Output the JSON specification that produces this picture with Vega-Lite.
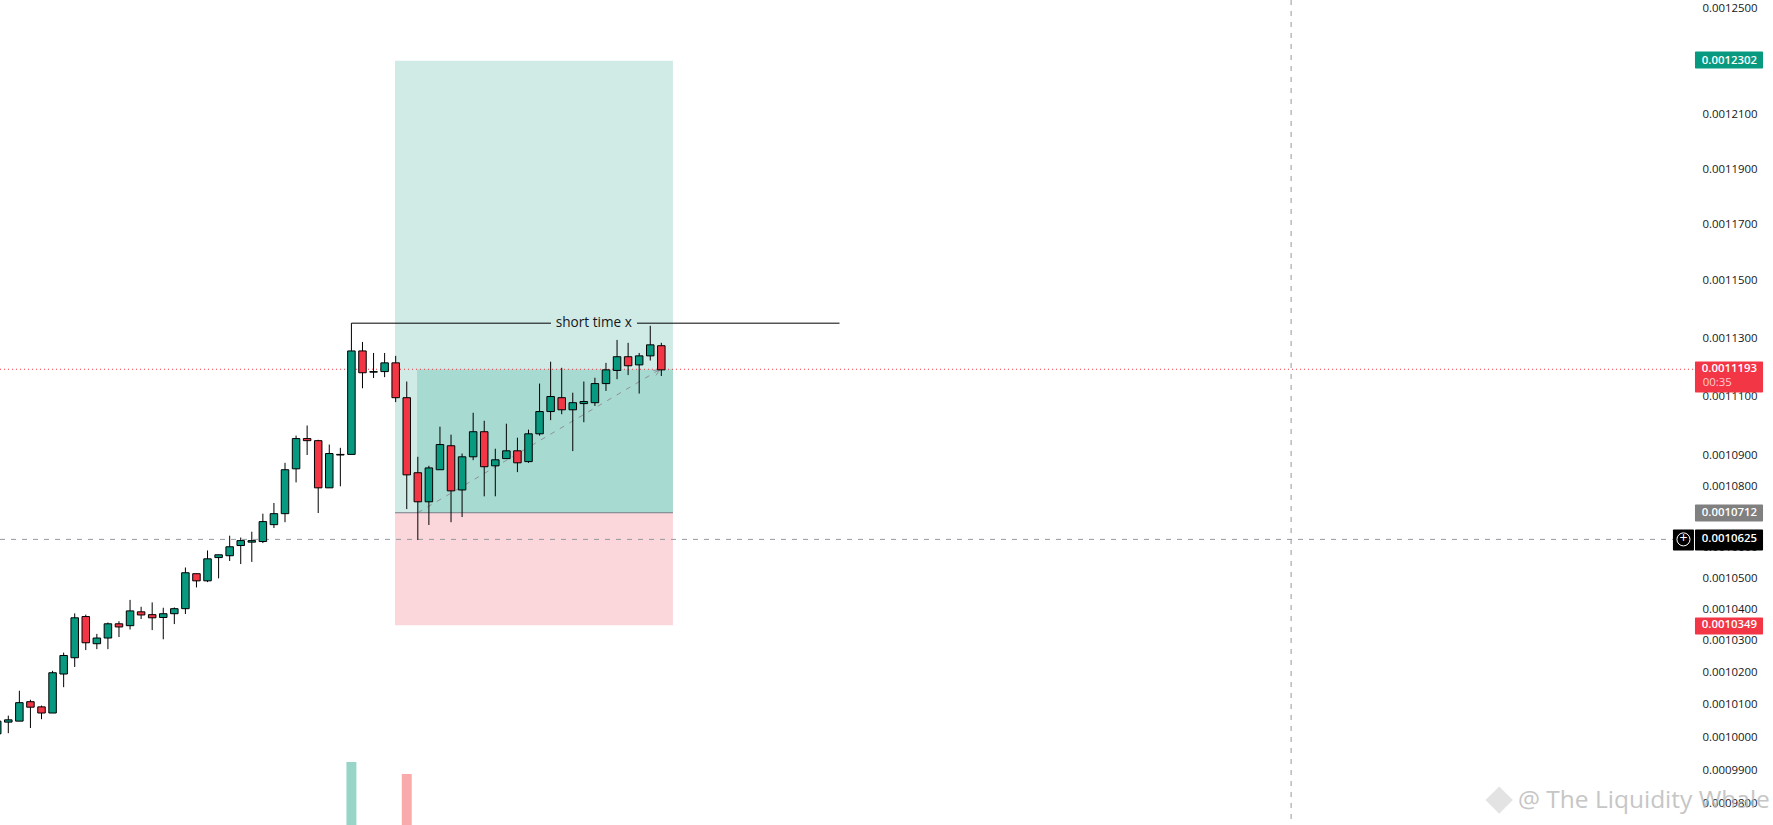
{
"$schema":"https://vega.github.io/schema/vega-lite/v6.json",
"width":1773,"height":825,"padding":0,"autosize":{"type":"none"},"background":"#ffffff",
"view":{"stroke":null},
"datasets":{
"candles":[
{"k":0,"open":0.0010011,"high":0.0010062,"low":0.0010001,"close":0.0010050,"dir":"up"},
{"k":1,"open":0.0010047,"high":0.0010067,"low":0.0010013,"close":0.0010054,"dir":"up"},
{"k":2,"open":0.0010050,"high":0.0010144,"low":0.0010050,"close":0.0010107,"dir":"up"},
{"k":3,"open":0.0010110,"high":0.0010116,"low":0.0010029,"close":0.0010093,"dir":"down"},
{"k":4,"open":0.0010094,"high":0.0010098,"low":0.0010056,"close":0.0010075,"dir":"down"},
{"k":5,"open":0.0010075,"high":0.0010206,"low":0.0010075,"close":0.0010200,"dir":"up"},
{"k":6,"open":0.0010196,"high":0.0010263,"low":0.0010155,"close":0.0010254,"dir":"up"},
{"k":7,"open":0.0010247,"high":0.0010387,"low":0.0010218,"close":0.0010373,"dir":"up"},
{"k":8,"open":0.0010377,"high":0.0010383,"low":0.0010271,"close":0.0010294,"dir":"down"},
{"k":9,"open":0.0010291,"high":0.0010322,"low":0.0010274,"close":0.0010309,"dir":"up"},
{"k":10,"open":0.0010309,"high":0.0010358,"low":0.0010274,"close":0.0010354,"dir":"up"},
{"k":11,"open":0.0010354,"high":0.0010362,"low":0.0010312,"close":0.0010344,"dir":"down"},
{"k":12,"open":0.0010348,"high":0.0010430,"low":0.0010336,"close":0.0010395,"dir":"up"},
{"k":13,"open":0.0010392,"high":0.0010408,"low":0.0010369,"close":0.0010382,"dir":"down"},
{"k":14,"open":0.0010383,"high":0.0010422,"low":0.0010334,"close":0.0010373,"dir":"down"},
{"k":15,"open":0.0010374,"high":0.0010405,"low":0.0010305,"close":0.0010386,"dir":"up"},
{"k":16,"open":0.0010386,"high":0.0010406,"low":0.0010353,"close":0.0010402,"dir":"up"},
{"k":17,"open":0.0010402,"high":0.0010534,"low":0.0010385,"close":0.0010517,"dir":"up"},
{"k":18,"open":0.0010514,"high":0.0010514,"low":0.0010470,"close":0.0010491,"dir":"down"},
{"k":19,"open":0.0010491,"high":0.0010589,"low":0.0010487,"close":0.0010562,"dir":"up"},
{"k":20,"open":0.0010566,"high":0.0010575,"low":0.0010499,"close":0.0010575,"dir":"up"},
{"k":21,"open":0.0010572,"high":0.0010637,"low":0.0010555,"close":0.0010601,"dir":"up"},
{"k":22,"open":0.0010605,"high":0.0010631,"low":0.0010545,"close":0.0010621,"dir":"up"},
{"k":23,"open":0.0010616,"high":0.0010650,"low":0.0010552,"close":0.0010621,"dir":"up"},
{"k":24,"open":0.0010618,"high":0.0010709,"low":0.0010613,"close":0.0010683,"dir":"up"},
{"k":25,"open":0.0010673,"high":0.0010744,"low":0.0010662,"close":0.0010709,"dir":"up"},
{"k":26,"open":0.0010709,"high":0.0010877,"low":0.0010681,"close":0.0010854,"dir":"up"},
{"k":27,"open":0.0010857,"high":0.0010968,"low":0.0010812,"close":0.0010958,"dir":"up"},
{"k":28,"open":0.0010958,"high":0.0011002,"low":0.0010903,"close":0.0010951,"dir":"down"},
{"k":29,"open":0.0010951,"high":0.0010954,"low":0.0010711,"close":0.0010794,"dir":"down"},
{"k":30,"open":0.0010794,"high":0.0010938,"low":0.0010794,"close":0.0010908,"dir":"up"},
{"k":31,"open":0.0010903,"high":0.0010927,"low":0.0010799,"close":0.0010905,"dir":"up"},
{"k":32,"open":0.0010905,"high":0.0011256,"low":0.0010905,"close":0.0011256,"dir":"up"},
{"k":33,"open":0.0011256,"high":0.0011287,"low":0.0011128,"close":0.0011181,"dir":"down"},
{"k":34,"open":0.0011183,"high":0.0011249,"low":0.0011163,"close":0.0011185,"dir":"up"},
{"k":35,"open":0.0011185,"high":0.0011249,"low":0.0011166,"close":0.0011215,"dir":"up"},
{"k":36,"open":0.0011215,"high":0.0011239,"low":0.0011081,"close":0.0011096,"dir":"down"},
{"k":37,"open":0.0011096,"high":0.0011151,"low":0.0010724,"close":0.0010837,"dir":"down"},
{"k":38,"open":0.0010844,"high":0.0010897,"low":0.0010623,"close":0.0010748,"dir":"down"},
{"k":39,"open":0.0010748,"high":0.0010867,"low":0.0010672,"close":0.0010860,"dir":"up"},
{"k":40,"open":0.0010854,"high":0.0010998,"low":0.0010854,"close":0.0010938,"dir":"up"},
{"k":41,"open":0.0010934,"high":0.0010971,"low":0.0010681,"close":0.0010784,"dir":"down"},
{"k":42,"open":0.0010787,"high":0.0010908,"low":0.0010698,"close":0.0010897,"dir":"up"},
{"k":43,"open":0.0010897,"high":0.0011045,"low":0.0010886,"close":0.0010981,"dir":"up"},
{"k":44,"open":0.0010981,"high":0.0011018,"low":0.0010766,"close":0.0010864,"dir":"down"},
{"k":45,"open":0.0010867,"high":0.0010924,"low":0.0010766,"close":0.0010887,"dir":"up"},
{"k":46,"open":0.0010891,"high":0.0011008,"low":0.0010891,"close":0.0010917,"dir":"up"},
{"k":47,"open":0.0010917,"high":0.0010961,"low":0.0010846,"close":0.0010877,"dir":"down"},
{"k":48,"open":0.0010881,"high":0.0010988,"low":0.0010877,"close":0.0010974,"dir":"up"},
{"k":49,"open":0.0010974,"high":0.0011144,"low":0.0010968,"close":0.0011049,"dir":"up"},
{"k":50,"open":0.0011049,"high":0.0011219,"low":0.0011020,"close":0.0011100,"dir":"up"},
{"k":51,"open":0.0011096,"high":0.0011198,"low":0.0011040,"close":0.0011055,"dir":"down"},
{"k":52,"open":0.0011055,"high":0.0011113,"low":0.0010916,"close":0.0011079,"dir":"up"},
{"k":53,"open":0.0011076,"high":0.0011151,"low":0.0011013,"close":0.0011083,"dir":"up"},
{"k":54,"open":0.0011079,"high":0.0011164,"low":0.0011068,"close":0.0011144,"dir":"up"},
{"k":55,"open":0.0011144,"high":0.0011215,"low":0.0011119,"close":0.0011191,"dir":"up"},
{"k":56,"open":0.0011189,"high":0.0011294,"low":0.0011159,"close":0.0011236,"dir":"up"},
{"k":57,"open":0.0011236,"high":0.0011284,"low":0.0011173,"close":0.0011205,"dir":"down"},
{"k":58,"open":0.0011208,"high":0.0011249,"low":0.0011110,"close":0.0011239,"dir":"up"},
{"k":59,"open":0.0011239,"high":0.0011343,"low":0.0011223,"close":0.0011277,"dir":"up"},
{"k":60,"open":0.0011274,"high":0.0011284,"low":0.0011170,"close":0.0011191,"dir":"down"}
],
"zones":[
{"zone":"profit","k0":35.94,"k1":61.05,"p0":0.0012302,"p1":0.0010712},
{"zone":"loss","k0":35.94,"k1":61.05,"p0":0.0010712,"p1":0.0010349},
{"zone":"filled","k0":37.93,"k1":61.05,"p0":0.0011193,"p1":0.0010712}
],
"tags":[
{"label":"0.0012302","kind":"target","k0":153.39,"k1":159.54,"hi":0.00123365,"lo":0.00122727,"price":0.0012302},
{"label":"0.0011193","kind":"last","k0":153.39,"k1":159.54,"hi":0.00112198,"lo":0.00111138,"price":0.0011193},
{"label":"0.0010712","kind":"entry","k0":153.39,"k1":159.54,"hi":0.0010739,"lo":0.00106835,"price":0.0010712},
{"label":"0.0010625","kind":"cross","k0":153.39,"k1":159.54,"hi":0.00106575,"lo":0.0010589,"price":0.0010625},
{"label":"0.0010349","kind":"stop","k0":153.39,"k1":159.54,"hi":0.0010374,"lo":0.001032,"price":0.0010349},
{"label":"","kind":"cross","k0":151.4,"k1":153.3,"hi":0.00106575,"lo":0.0010589,"price":0.0010625}
]
},
"resolve":{"scale":{"y":"independent"}},
"layer":[
{"layer":[
{"data":{"name":"zones"},"mark":{"type":"rect"},
 "encoding":{
  "x":{"field":"k0","type":"quantitative","scale":{"domain":[0.25,160.44],"nice":false,"zero":false,"padding":0},"axis":null},
  "x2":{"field":"k1"},
  "y":{"field":"p0","type":"quantitative","scale":{"type":"log","domain":[0.00097355,0.00125325],"nice":false,"zero":false},
   "axis":{"orient":"right","title":null,"offset":-16,"domain":false,"ticks":false,"grid":false,"labelPadding":0,"labelAlign":"right","labelFont":"Open Sans","labelFontSize":11.4,"labelColor":"#131722","format":".7f","labelOverlap":false,"labelBound":false,"labelFlush":false,"zindex":0,
   "values":[0.00125,0.00123,0.00121,0.00119,0.00117,0.00115,0.00113,0.00111,0.00109,0.00108,0.00107,0.00106,0.00105,0.00104,0.00103,0.00102,0.00101,0.001,0.00099,0.00098]}},
  "y2":{"field":"p1"},
  "fill":{"field":"zone","type":"nominal","legend":null,"scale":{"domain":["profit","loss","filled","up","down","target","last","entry","cross","stop","volUp","volDown"],"range":["#D0EBE6","#FBD7DB","#A7DAD1","#089981","#F23645","#089981","#F23645","#808080","#000000","#F23645","#99D4C9","#F9ABAB"]}}
 }},
{"data":{"values":[{"k0":35.94,"k1":61.05,"p":0.0010712}]},"mark":{"type":"rule","color":"#787B86","strokeWidth":1},
 "encoding":{"x":{"field":"k0","type":"quantitative"},"x2":{"field":"k1"},"y":{"field":"p","type":"quantitative"}}},
{"data":{"values":[{"k0":0.25,"k1":151.4,"p":0.0010625}]},"mark":{"type":"rule","color":"#9598A1","strokeWidth":1,"strokeDash":[5,6]},
 "encoding":{"x":{"field":"k0","type":"quantitative"},"x2":{"field":"k1"},"y":{"field":"p","type":"quantitative"}}},
{"data":{"values":[{"k0":0.25,"k1":153.39,"p":0.0011193}]},"mark":{"type":"rule","color":"#F23645","strokeWidth":1,"strokeDash":[1,3]},
 "encoding":{"x":{"field":"k0","type":"quantitative"},"x2":{"field":"k1"},"y":{"field":"p","type":"quantitative"}}},
{"data":{"values":[{"k":38,"p":0.0010712},{"k":59.9,"p":0.0011193}]},"mark":{"type":"line","color":"#8f9199","strokeWidth":1,"strokeDash":[5,6]},
 "encoding":{"x":{"field":"k","type":"quantitative"},"y":{"field":"p","type":"quantitative"}}},
{"data":{"values":[{"i":1,"k":59.27,"p":0.0011188},{"i":2,"k":59.9,"p":0.0011193},{"i":3,"k":59.52,"p":0.0011172}]},"mark":{"type":"line","color":"#8f9199","strokeWidth":1},
 "encoding":{"x":{"field":"k","type":"quantitative"},"y":{"field":"p","type":"quantitative"},"order":{"field":"i"}}},
{"data":{"name":"candles"},"mark":{"type":"rule","color":"#000000","strokeWidth":1},
 "encoding":{"x":{"field":"k","type":"quantitative"},"y":{"field":"low","type":"quantitative"},"y2":{"field":"high"}}},
{"data":{"name":"candles"},"mark":{"type":"bar","size":7.5,"stroke":"#000000","strokeWidth":1},
 "encoding":{"x":{"field":"k","type":"quantitative"},"y":{"field":"open","type":"quantitative"},"y2":{"field":"close"},
  "fill":{"field":"dir","type":"nominal","legend":null}}},
{"data":{"values":[{"k0":32,"k1":50.03,"p":0.0011352},{"k0":57.8,"k1":76.1,"p":0.0011352}]},"mark":{"type":"rule","color":"#000000","strokeWidth":1},
 "encoding":{"x":{"field":"k0","type":"quantitative"},"x2":{"field":"k1"},"y":{"field":"p","type":"quantitative"}}},
{"data":{"values":[{"k":32,"p0":0.0011352,"p1":0.0011256}]},"mark":{"type":"rule","color":"#000000","strokeWidth":1},
 "encoding":{"x":{"field":"k","type":"quantitative"},"y":{"field":"p0","type":"quantitative"},"y2":{"field":"p1"}}},
{"data":{"values":[{"k":53.9,"p":0.0011352,"t":"short time x"}]},"mark":{"type":"text","font":"Open Sans","fontSize":13.6,"color":"#131722","align":"center","baseline":"middle"},
 "encoding":{"x":{"field":"k","type":"quantitative"},"y":{"field":"p","type":"quantitative"},"text":{"field":"t"}}},
{"data":{"values":[{"k":116.9}]},"mark":{"type":"rule","color":"#9598A1","strokeWidth":1,"strokeDash":[5,6]},
 "encoding":{"x":{"field":"k","type":"quantitative"}}},
{"data":{"name":"tags"},"mark":{"type":"rect","cornerRadius":1},
 "encoding":{"x":{"field":"k0","type":"quantitative"},"x2":{"field":"k1"},"y":{"field":"hi","type":"quantitative"},"y2":{"field":"lo"},
  "fill":{"field":"kind","type":"nominal","legend":null}}},
{"data":{"name":"tags"},"mark":{"type":"text","font":"Open Sans","fontSize":11.4,"fontWeight":600,"color":"#ffffff","align":"right","baseline":"middle"},
 "encoding":{"x":{"datum":159.0,"type":"quantitative"},"y":{"field":"price","type":"quantitative"},"text":{"field":"label"}}},
{"data":{"values":[{"k":154.1,"p":0.00111445,"t":"00:35"}]},"mark":{"type":"text","font":"Open Sans","fontSize":11.4,"color":"#FFCDD2","align":"left","baseline":"middle"},
 "encoding":{"x":{"field":"k","type":"quantitative"},"y":{"field":"p","type":"quantitative"},"text":{"field":"t"}}},
{"data":{"values":[{"k":152.35,"p":0.0010625}]},"mark":{"type":"point","shape":"circle","size":170,"filled":false,"color":"#ffffff","strokeWidth":1,"opacity":1},
 "encoding":{"x":{"field":"k","type":"quantitative"},"y":{"field":"p","type":"quantitative"}}},
{"data":{"values":[{"k":152.35,"p":0.0010625,"t":"+"}]},"mark":{"type":"text","font":"Open Sans","fontSize":14,"color":"#ffffff","align":"center","baseline":"middle"},
 "encoding":{"x":{"field":"k","type":"quantitative"},"y":{"field":"p","type":"quantitative"},"text":{"field":"t"}}},
{"data":{"values":[{"k":135.7,"p":0.000981}]},"mark":{"type":"point","shape":"diamond","size":750,"filled":true,"color":"#dcdcdc","opacity":0.8},
 "encoding":{"x":{"field":"k","type":"quantitative"},"y":{"field":"p","type":"quantitative"}}},
{"data":{"values":[{"k":137.4,"p":0.0009806,"t":"@ The Liquidity Whale"}]},"mark":{"type":"text","font":"Open Sans","fontSize":24.5,"color":"#b8b8b8","opacity":0.8,"align":"left","baseline":"middle"},
 "encoding":{"x":{"field":"k","type":"quantitative"},"y":{"field":"p","type":"quantitative"},"text":{"field":"t"}}}
]},
{"data":{"values":[{"k0":31.55,"k1":32.45,"vol":63,"side":"volUp"},{"k0":36.55,"k1":37.45,"vol":51,"side":"volDown"}]},
 "mark":{"type":"rect"},
 "encoding":{
  "x":{"field":"k0","type":"quantitative"},"x2":{"field":"k1"},
  "y":{"field":"vol","type":"quantitative","scale":{"domain":[0,825],"nice":false,"zero":true},"axis":null},
  "y2":{"datum":0},
  "fill":{"field":"side","type":"nominal","legend":null}
 }}
]
}
